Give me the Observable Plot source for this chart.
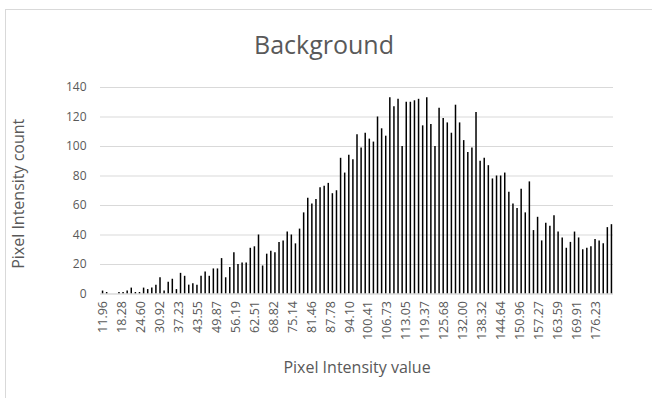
<!DOCTYPE html>
<html><head><meta charset="utf-8">
<script src="https://cdn.jsdelivr.net/npm/d3@7"></script>
<script src="https://cdn.jsdelivr.net/npm/@observablehq/plot@0.6"></script>
<style>
html,body{margin:0;padding:0;background:#fff;}
#wrap{position:relative;width:652px;height:398px;overflow:hidden;background:#fff;}
#border{position:absolute;left:5px;top:9px;width:700px;height:500px;border:1px solid #d9d9d9;}
#chart{position:absolute;left:0;top:0;}
</style></head><body>
<div id="wrap"><div id="border"></div><div id="chart"></div></div>
<script>
const title = "Background";
const xLabel = "Pixel Intensity value";
const yLabel = "Pixel Intensity count";
const tickLabels = [11.96, 18.28, 24.60, 30.92, 37.23, 43.55, 49.87, 56.19, 62.51, 68.82, 75.14, 81.46, 87.78, 94.10, 100.41, 106.73, 113.05, 119.37, 125.68, 132.00, 138.32, 144.64, 150.96, 157.27, 163.59, 169.91, 176.23];
const yTicks = [0, 20, 40, 60, 80, 100, 120, 140];
const binStart = 11.96;
const binWidth = 1.365;
const counts = [
  2, 1, 0, 0, 1, 1, 2, 4, 1, 1,
  4, 3, 4, 6, 11, 2, 8, 10, 3, 14,
  12, 6, 7, 6, 12, 15, 12, 17, 17, 24,
  11, 18, 28, 20, 21, 21, 31, 32, 40, 19,
  27, 29, 28, 35, 36, 42, 40, 34, 44, 55,
  65, 61, 64, 72, 73, 75, 68, 70, 92, 82,
  94, 91, 108, 99, 109, 105, 103, 120, 112, 107,
  133, 127, 132, 100, 130, 130, 131, 132, 114, 133,
  115, 100, 126, 119, 116, 109, 128, 116, 104, 96,
  99, 123, 90, 92, 87, 78, 80, 80, 82, 69,
  61, 58, 71, 55, 76, 43, 52, 36, 48, 46,
  53, 42, 38, 31, 35, 42, 38, 30, 31, 32,
  37, 36, 34, 45, 47
];
const data = counts.map((c, i) => ({v: binStart + i * binWidth, c}));

const chart = Plot.plot({
  width: 652,
  height: 398,
  marginLeft: 100,
  marginRight: 39,
  marginTop: 87,
  marginBottom: 104.5,
  x: {domain: [binStart - binWidth / 2, binStart + (counts.length - 0.5) * binWidth]},
  y: {domain: [0, 140]},
  style: {fontFamily: "'Open Sans', sans-serif", color: "#595959", background: "transparent"},
  marks: [
    Plot.gridY(yTicks, {stroke: "#d9d9d9", strokeOpacity: 1}),
    Plot.ruleX(data, {x: "v", y: "c", stroke: "#000", strokeWidth: 1.5}),
    Plot.ruleY([0], {stroke: "#d9d9d9"}),
    Plot.axisY(yTicks, {tickSize: 0, tickPadding: 14, fontSize: 12, fill: "#595959", label: null}),
    Plot.axisX(tickLabels, {tickSize: 0, tickRotate: -90, tickPadding: 7, fontSize: 12.5, fill: "#595959", label: null, tickFormat: d => d.toFixed(2)}),
    Plot.text([title], {frameAnchor: "top", textAnchor: "middle", lineAnchor: "middle", dx: -33, dy: -42, fontSize: 25, fill: "#595959"}),
    Plot.text([yLabel], {frameAnchor: "left", textAnchor: "middle", lineAnchor: "middle", rotate: -90, dx: -82, dy: 3, fontSize: 16, fill: "#595959"}),
    Plot.text([xLabel], {frameAnchor: "bottom", textAnchor: "middle", lineAnchor: "middle", dy: 74, fontSize: 16, fill: "#595959"})
  ]
});
document.getElementById("chart").appendChild(chart);
</script>
</body></html>
